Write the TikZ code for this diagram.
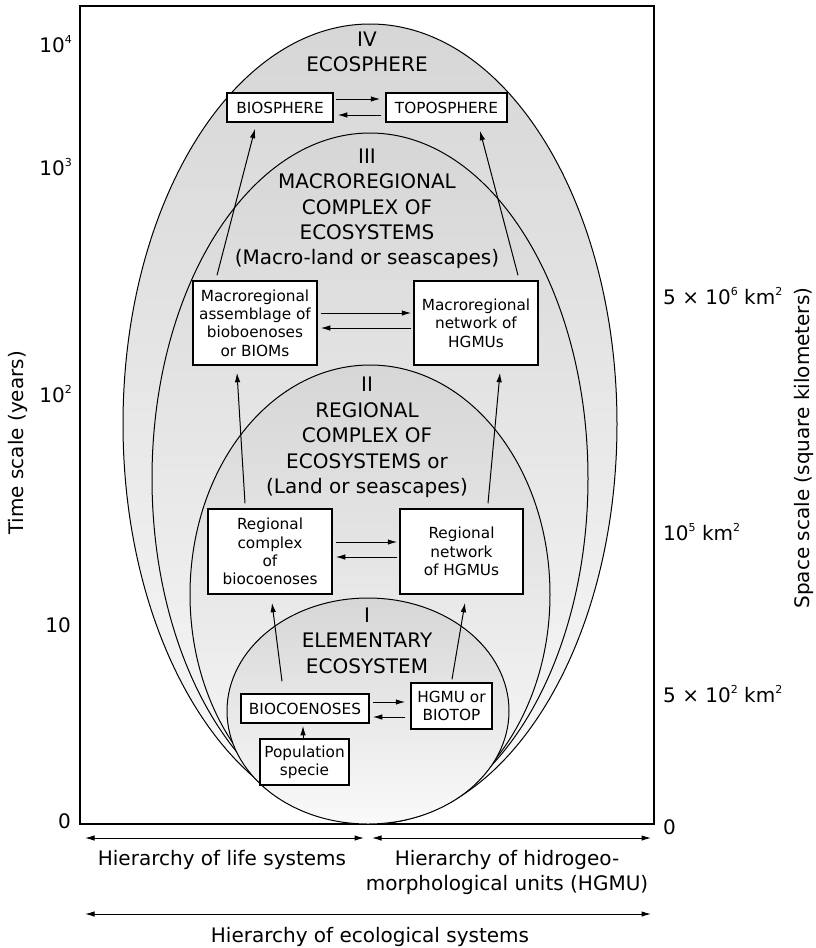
\documentclass[tikz,border=0pt]{standalone}
\usepackage{fontspec}
\setmainfont{DejaVu Sans}
\usetikzlibrary{arrows.meta}
% small raised exponent
\newcommand\sps[1]{\raisebox{0.45em}{\fontsize{11}{11}\selectfont #1}}

\begin{document}
\begin{tikzpicture}[x=1pt,y=-1pt,
  big/.style={font=\fontsize{20}{25.2}\selectfont, align=center, inner sep=0pt},
  axl/.style={font=\fontsize{20}{25}\selectfont, inner sep=0pt},
  unit/.style={draw, line width=1.5pt, fill=white, inner sep=0pt, align=center,
               font=\fontsize{15.3}{18.3}\selectfont},
  tip/.tip={Latex[length=9.5pt,width=5.5pt]},
  arr/.style={line width=1pt, -tip},
  darr/.style={line width=1pt, tip-tip},
  shell/.style={draw, line width=1pt, top color=black!16, bottom color=black!2}
]
\useasboundingbox (0,0) rectangle (816,948);

% frame of the time / space plane
\draw[line width=1.3pt] (80,6) rectangle (654,824);

% nested levels of organisation
\path[shell] (370,424)   ellipse [x radius=247pt, y radius=400pt];
\path[shell] (370,478.5) ellipse [x radius=218pt, y radius=345.5pt];
\path[shell] (370,594.5) ellipse [x radius=180pt, y radius=229.5pt];
\path[shell] (368,711)   ellipse [x radius=141pt, y radius=113pt];

% level titles
\node[big, anchor=north] (t4) at (367,32)  {IV\\ECOSPHERE};
\node[big, anchor=north] (t3) at (367,149) {III\\MACROREGIONAL\\COMPLEX OF\\ECOSYSTEMS\\(Macro-land or seascapes)};
\node[big, anchor=north, font=\fontsize{20}{25.5}\selectfont] (t2) at (367,377) {II\\REGIONAL\\COMPLEX OF\\ECOSYSTEMS or\\(Land or seascapes)};
\node[big, anchor=north] (t1) at (367,608) {I\\ELEMENTARY\\ECOSYSTEM};

% units of each level
\node[unit, minimum width=106pt, minimum height=29pt] (bio)  at (280,107.5) {BIOSPHERE};
\node[unit, minimum width=121pt, minimum height=29pt] (topo) at (446.5,107.5) {TOPOSPHERE};
\node[unit, minimum width=124pt, minimum height=84pt] (asm)  at (255,323) {Macroregional\\assemblage of\\bioboenoses\\or BIOMs};
\node[unit, minimum width=124pt, minimum height=84pt] (net)  at (476,323) {Macroregional\\network of\\HGMUs};
\node[unit, minimum width=124pt, minimum height=85pt] (reg)  at (270,551.5) {Regional\\complex\\of\\biocoenoses};
\node[unit, minimum width=123pt, minimum height=85pt] (regnet) at (461.5,551.5) {Regional\\network\\of HGMUs};
\node[unit, minimum width=128pt, minimum height=29pt] (bioc) at (305,708.5) {BIOCOENOSES};
\node[unit, minimum width=81pt, minimum height=46pt]  (hgmu) at (451.5,706) {HGMU or\\BIOTOP};
\node[unit, minimum width=89pt, minimum height=46pt]  (pop)  at (304.5,762) {Population\\specie};

% exchanges within a level
\draw[arr] ([xshift=2pt,yshift=8.5pt]bio.east) -- ([xshift=-5pt,yshift=8.5pt]topo.west);
\draw[arr] ([xshift=-4pt,yshift=-7.5pt]topo.west) -- ([xshift=4pt,yshift=-7.5pt]bio.east);
\draw[arr] ([xshift=3pt,yshift=10pt]asm.east) -- ([xshift=-2pt,yshift=10pt]net.west);
\draw[arr] ([xshift=-2pt,yshift=-5pt]net.west) -- ([xshift=3pt,yshift=-5pt]asm.east);
\draw[arr] ([xshift=3pt,yshift=9.5pt]reg.east) -- ([xshift=-2pt,yshift=9.5pt]regnet.west);
\draw[arr] ([xshift=-2pt,yshift=-5.5pt]regnet.west) -- ([xshift=3pt,yshift=-5.5pt]reg.east);
\draw[arr] ([xshift=3pt,yshift=6.5pt]bioc.east) -- ([xshift=-5pt,yshift=4pt]hgmu.west);
\draw[arr] ([xshift=-5pt,yshift=-11pt]hgmu.west) -- ([xshift=3pt,yshift=-8.5pt]bioc.east);

% links to the next level up
\draw[arr] ([xshift=-1.5pt,yshift=0pt]pop.north) -- ([xshift=-2pt,yshift=-2pt]bioc.south);
\draw[arr] ([xshift=-23pt,yshift=12pt]bioc.north) -- ([xshift=2pt,yshift=-8pt]reg.south);
\draw[arr] ([xshift=0.5pt,yshift=3pt]hgmu.north) -- ([xshift=3.5pt,yshift=-8pt]regnet.south);
\draw[arr] ([xshift=-25pt,yshift=5pt]reg.north) -- ([xshift=-18pt,yshift=-7pt]asm.south);
\draw[arr] ([xshift=26.5pt,yshift=5pt]regnet.north) -- ([xshift=24pt,yshift=-7pt]net.south);
\draw[arr] ([xshift=-38pt,yshift=5pt]asm.north) -- ([xshift=-25pt,yshift=-6pt]bio.south);
\draw[arr] ([xshift=42pt,yshift=5pt]net.north) -- ([xshift=33.5pt,yshift=-8pt]topo.south);

% time axis
\node[axl, anchor=base east] (y4) at (72,52.3)  {10\sps{4}};
\node[axl, anchor=base east] (y3) at (72,175.3) {10\sps{3}};
\node[axl, anchor=base east] (y2) at (72,402.3) {10\sps{2}};
\node[axl, anchor=base east] (y1) at (71,632.3) {10};
\node[axl, anchor=base east] (y0) at (71,828)   {0};
\node[axl, rotate=90] (ty) at (18,443) {Time scale (years)};

% space axis
\node[axl, anchor=base west] (s6) at (663,304.3) {5 × 10\sps{6} km\sps{2}};
\node[axl, anchor=base west] (s5) at (663,540.3) {10\sps{5} km\sps{2}};
\node[axl, anchor=base west] (s2) at (663,702.3) {5 × 10\sps{2} km\sps{2}};
\node[axl, anchor=base west] (s0) at (663,834)   {0};
\node[axl, rotate=90] (sy) at (804,448) {Space scale (square kilometers)};

% hierarchies along the bottom
\coordinate (l1) at (85,838);
\coordinate (l2) at (364,838);
\coordinate (r1) at (372,838);
\coordinate (r2) at (651,838);
\coordinate (e1) at (85,914);
\coordinate (e2) at (651,914);
\draw[darr] (l1) -- (l2);
\draw[darr] (r1) -- (r2);
\draw[darr] (e1) -- (e2);
\node[axl, anchor=base] (lifet) at (222,865) {Hierarchy of life systems};
\node[axl, anchor=north, align=center] (hgmut) at (507,850.4) {Hierarchy of hidrogeo-\\morphological units (HGMU)};
\node[axl, anchor=base] (ecot) at (370,942) {Hierarchy of ecological systems};
\end{tikzpicture}
\end{document}
